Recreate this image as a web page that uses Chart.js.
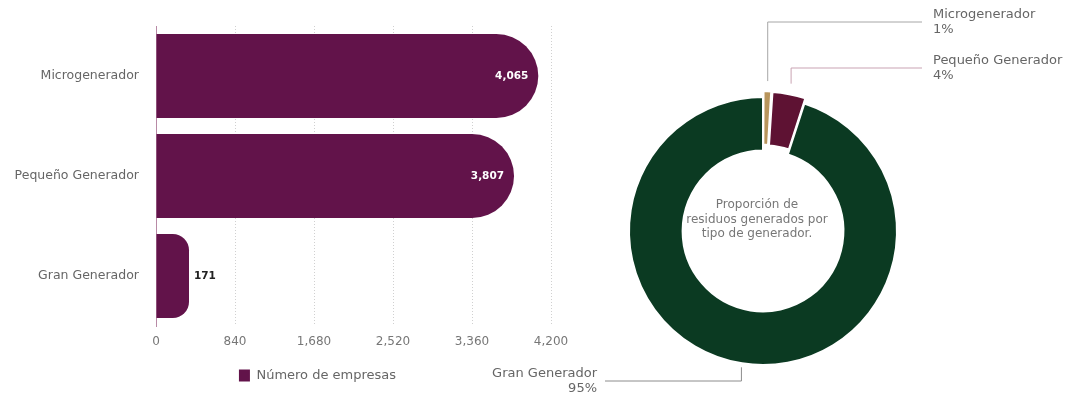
<!DOCTYPE html>
<html>
<head>
<meta charset="utf-8">
<script src="https://cdn.jsdelivr.net/npm/chart.js@4"></script>
<style>
    html, body { margin: 0; padding: 0; background: #fff; }
    body { width: 1075px; height: 396px; position: relative; overflow: hidden; }
    #barWrap { position: absolute; left: 0; top: 0; width: 630px; height: 396px; }
    #pieWrap { position: absolute; left: 460px; top: 0; width: 615px; height: 396px; }
</style>
</head>
<body>
<div id="barWrap"><canvas id="barChart"></canvas></div>
<div id="pieWrap"><canvas id="pieChart"></canvas></div>
<script>
const categories = ['Microgenerador', 'Pequeño Generador', 'Gran Generador'];
const empresas = [4065, 3807, 171];
const xTickValues = [0, 840, 1680, 2520, 3360, 4200];
const shareLabels = ['Microgenerador', 'Pequeño Generador', 'Gran Generador'];
const sharePct = [1, 4, 95];
const centerText = ['Proporción de', 'residuos generados por', 'tipo de generador.'];

const FONT = "'DejaVu Sans', sans-serif";
const MAROON = '#62134a';

// value labels on the bars
const barLabels = {
    id: 'barLabels',
    afterDatasetsDraw(chart) {
        const ctx = chart.ctx;
        const meta = chart.getDatasetMeta(0);
        ctx.save();
        ctx.font = "bold 10.5px " + FONT;
        ctx.textBaseline = 'middle';
        meta.data.forEach((bar, i) => {
            const txt = empresas[i].toLocaleString('en-US');
            const len = bar.x - bar.base;
            if (len > 60) {
                ctx.fillStyle = '#ffffff';
                ctx.textAlign = 'right';
                ctx.fillText(txt, bar.x - 10, bar.y);
            } else {
                ctx.fillStyle = '#222222';
                ctx.textAlign = 'left';
                ctx.fillText(txt, bar.x + 5, bar.y);
            }
        });
        ctx.restore();
    }
};

// centre the legend under the labels + plot, like the original
const legendShift = {
    id: 'legendShift',
    afterLayout(chart) {
        chart.legend.left = 84;
        chart.legend.right = chart.chartArea.right;
    }
};

new Chart(document.getElementById('barChart'), {
    type: 'bar',
    data: {
        labels: categories,
        datasets: [{
            label: 'Número de empresas',
            data: empresas,
            backgroundColor: MAROON,
            borderRadius: { topRight: 42, bottomRight: 42 },
            borderSkipped: 'start',
            barPercentage: 0.84,
            categoryPercentage: 1,
            minBarLength: 33
        }]
    },
    options: {
        indexAxis: 'y',
        responsive: true,
        maintainAspectRatio: false,
        animation: false,
        layout: { padding: { left: 0, right: 79, top: 26, bottom: 4 } },
        scales: {
            x: {
                min: 0,
                max: 4200,
                afterBuildTicks: s => { s.ticks = xTickValues.map(v => ({ value: v })); },
                grid: { color: '#d0d0d0', drawTicks: false, lineWidth: 1 },
                border: { display: false, dash: [1, 2] },
                ticks: {
                    color: '#777', padding: 9,
                    font: { family: FONT, size: 12 },
                    callback: v => v.toLocaleString('en-US')
                },
                afterFit: s => { s.height = 33; }
            },
            y: {
                grid: { display: false },
                border: { color: '#b88aa6', width: 1 },
                ticks: { color: '#666', padding: 9, font: { family: FONT, size: 12.5 } },
                afterFit: s => { s.width = 156; }
            }
        },
        plugins: {
            legend: {
                position: 'bottom',
                labels: {
                    color: '#666', boxWidth: 11, boxHeight: 12, padding: 10,
                    font: { family: FONT, size: 13 }
                }
            },
            tooltip: { enabled: false }
        }
    },
    plugins: [barLabels, legendShift]
});

const callouts = [
    { lineY: 22, endX: 462, side: 'right', color: '#a6a6a6' },
    { lineY: 68, endX: 462, side: 'right', color: '#c9a3b3' },
    { lineY: 381, endX: 145, side: 'left', color: '#8c8c8c' }
];

const pieCallouts = {
    id: 'pieCallouts',
    afterDatasetsDraw(chart) {
        const ctx = chart.ctx;
        const meta = chart.getDatasetMeta(0);
        ctx.save();
        ctx.lineWidth = 1;
        ctx.font = '13px ' + FONT;
        ctx.textBaseline = 'middle';
        meta.data.forEach((arc, i) => {
            const c = callouts[i];
            const a = (arc.startAngle + arc.endAngle) / 2;
            const r = arc.outerRadius + (arc.options.offset || 0) + 4;
            const ax = arc.x + Math.cos(a) * r;
            const ay = arc.y + Math.sin(a) * r;
            ctx.strokeStyle = c.color;
            ctx.beginPath();
            ctx.moveTo(ax, ay);
            ctx.lineTo(ax, c.lineY);
            ctx.lineTo(c.endX, c.lineY);
            ctx.stroke();
            ctx.fillStyle = '#666';
            if (c.side === 'right') {
                ctx.textAlign = 'left';
                ctx.fillText(shareLabels[i], c.endX + 11, c.lineY - 7);
                ctx.fillText(sharePct[i] + '%', c.endX + 11, c.lineY + 8);
            } else {
                ctx.textAlign = 'right';
                ctx.fillText(shareLabels[i], c.endX - 8, c.lineY - 7);
                ctx.fillText(sharePct[i] + '%', c.endX - 8, c.lineY + 8);
            }
        });
        // centre text
        const arc0 = meta.data[0];
        ctx.fillStyle = '#777';
        ctx.font = '12px ' + FONT;
        ctx.textAlign = 'center';
        centerText.forEach((t, k) => {
            ctx.fillText(t, arc0.x - 6, arc0.y - 26 + k * 14.5);
        });
        ctx.restore();
    }
};

new Chart(document.getElementById('pieChart'), {
    type: 'doughnut',
    data: {
        labels: shareLabels,
        datasets: [{
            data: sharePct,
            backgroundColor: ['#b8955c', '#5e1233', '#0b3a22'],
            borderColor: '#ffffff',
            borderWidth: 2,
            offset: [12, 12, 0]
        }]
    },
    options: {
        responsive: true,
        maintainAspectRatio: false,
        animation: false,
        cutout: '60%',
        layout: { padding: { left: 162, right: 171, top: 90, bottom: 24 } },
        plugins: {
            legend: { display: false },
            tooltip: { enabled: false }
        }
    },
    plugins: [pieCallouts]
});
</script>
</body>
</html>
